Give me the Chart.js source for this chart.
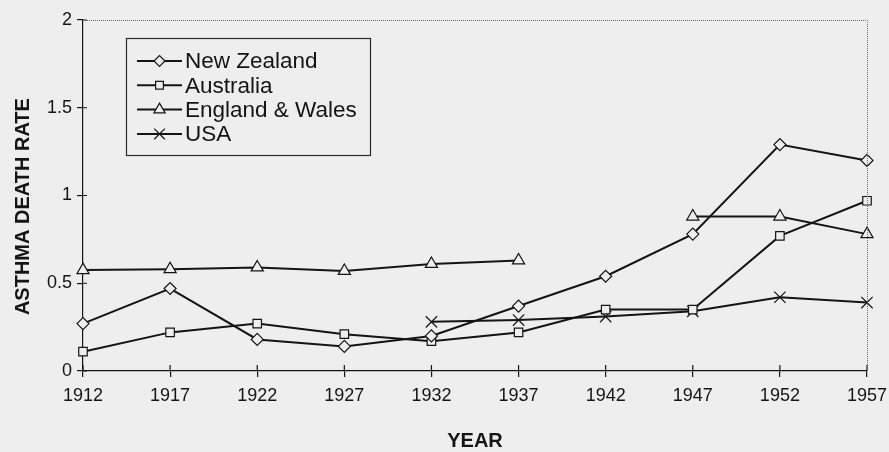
<!DOCTYPE html>
<html><head><meta charset="utf-8">
<script src="https://cdn.jsdelivr.net/npm/chart.js@4"></script>
<style>html,body{margin:0;padding:0;background:#eeeeee}#wrap{width:889px;height:452px;position:relative}</style>
</head><body><div id="wrap"><canvas id="c"></canvas></div>
<script>
const years = ['1912','1917','1922','1927','1932','1937','1942','1947','1952','1957'];
const newZealand = [0.27,0.47,0.18,0.14,0.20,0.37,0.54,0.78,1.29,1.20];
const australia = [0.11,0.22,0.27,0.21,0.17,0.22,0.35,0.35,0.77,0.97];
const englandWales = [0.575,0.58,0.59,0.57,0.61,0.63,null,0.88,0.88,0.78];
const usa = [null,null,null,null,0.28,0.29,0.31,0.34,0.42,0.39];
const yTicks = [0,0.5,1,1.5,2];
const seriesNames = ['New Zealand','Australia','England & Wales','USA'];

const INK = '#141414';
const PAPER = '#eeeeee';
const SANS = "'Liberation Sans',Arial,Helvetica,sans-serif";

function ds(label, data, style, radius) {
  return {label, data, borderColor: INK, borderWidth: 2, backgroundColor: PAPER,
    pointStyle: style, pointRadius: radius, pointHoverRadius: radius,
    pointBorderColor: INK, pointBackgroundColor: PAPER, pointBorderWidth: 1.2,
    spanGaps: false, tension: 0};
}

const crossTicks = {
  id: 'crossTicks',
  afterDraw(chart) {
    const {ctx, chartArea: a, scales: {x, y}} = chart;
    ctx.save();
    ctx.strokeStyle = INK; ctx.lineWidth = 1.2;
    ctx.beginPath();
    x.ticks.forEach((t, i) => { const px = x.getPixelForTick(i); ctx.moveTo(px, a.bottom); ctx.lineTo(px, a.bottom - 6); });
    y.ticks.forEach((t, i) => { const py = y.getPixelForTick(i); ctx.moveTo(a.left, py); ctx.lineTo(a.left + 4, py); });
    ctx.stroke();
    ctx.strokeStyle = '#6a6a6a'; ctx.lineWidth = 1; ctx.setLineDash([1, 1]);
    ctx.beginPath();
    ctx.moveTo(a.left, a.top + 0.5); ctx.lineTo(a.right + 0.5, a.top + 0.5); ctx.lineTo(a.right + 0.5, a.bottom);
    ctx.stroke();
    ctx.restore();
  }
};

const boxLegend = {
  id: 'boxLegend',
  afterDraw(chart) {
    const {ctx} = chart;
    const bx = 126, by = 38, bw = 244, bh = 117;
    ctx.save();
    ctx.strokeStyle = '#2a2a2a'; ctx.lineWidth = 1.2;
    ctx.strokeRect(bx + 0.5, by + 0.5, bw, bh);
    ctx.font = '22.5px ' + SANS;
    ctx.textBaseline = 'middle';
    chart.data.datasets.forEach((d, i) => {
      const cy = by + 23 + i * 24.3;
      ctx.strokeStyle = INK; ctx.lineWidth = 2;
      ctx.beginPath(); ctx.moveTo(137, cy); ctx.lineTo(182, cy); ctx.stroke();
      ctx.fillStyle = PAPER; ctx.strokeStyle = INK; ctx.lineWidth = 1.2;
      Chart.helpers.drawPoint(ctx, {pointStyle: d.pointStyle, radius: d.pointRadius - 0.5, rotation: 0, borderWidth: 1.2}, 159.5, cy);
      ctx.fillStyle = INK;
      ctx.fillText(seriesNames[i], 185, cy + 1);
    });
    ctx.restore();
  }
};

new Chart(document.getElementById('c'), {
  type: 'line',
  data: {
    labels: years,
    datasets: [
      ds(seriesNames[0], newZealand, 'rectRot', 6),
      ds(seriesNames[1], australia, 'rect', 6),
      ds(seriesNames[2], englandWales, 'triangle', 7),
      ds(seriesNames[3], usa, 'crossRot', 8)
    ]
  },
  options: {
    responsive: true, maintainAspectRatio: false, animation: false,
    layout: {padding: {left: 0, right: 22, top: 20, bottom: 0}},
    plugins: {legend: {display: false}, tooltip: {enabled: false}},
    scales: {
      x: {
        offset: false,
        grid: {drawOnChartArea: false, drawTicks: true, tickLength: 6, color: INK, lineWidth: 1.2},
        border: {display: true, color: INK, width: 1.2},
        ticks: {color: INK, font: {family: SANS, size: 18}, padding: 8, maxRotation: 0, autoSkip: false},
        title: {display: true, text: 'YEAR', color: INK, font: {family: SANS, size: 20, weight: 'bold', lineHeight: 1}, padding: {top: 0, bottom: 1}},
        afterFit(s) { s.height = 81; s.paddingLeft = 0; s.paddingRight = 0; }
      },
      y: {
        min: 0, max: 2,
        afterBuildTicks(s) { s.ticks = yTicks.map(v => ({value: v})); },
        grid: {drawOnChartArea: false, drawTicks: true, tickLength: 6, color: INK, lineWidth: 1.2},
        border: {display: true, color: INK, width: 1.2},
        ticks: {color: INK, font: {family: SANS, size: 18}, padding: 5, callback: v => String(v)},
        title: {display: true, text: 'ASTHMA DEATH RATE    ', color: INK, font: {family: SANS, size: 20, weight: 'bold', lineHeight: 1}, padding: {top: 13, bottom: 0}},
        afterFit(s) { s.width = 83; s.paddingTop = 0; s.paddingBottom = 0; }
      }
    }
  },
  plugins: [crossTicks, boxLegend]
});
</script></body></html>
